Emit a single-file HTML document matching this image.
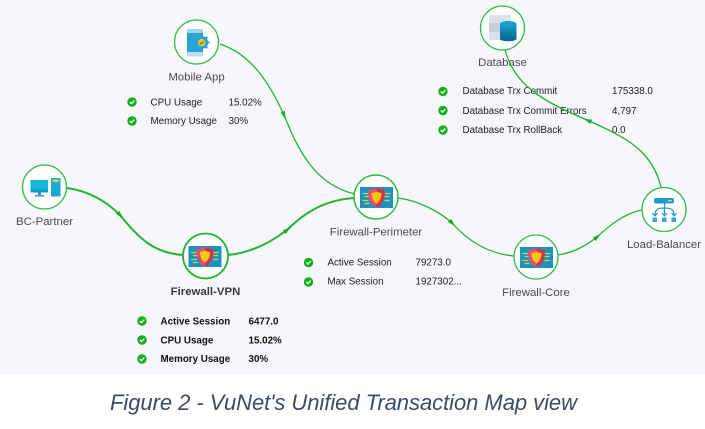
<!DOCTYPE html>
<html><head><meta charset="utf-8"><style>
html,body{margin:0;padding:0;background:#fff}
svg{display:block;filter:blur(.3px)}
text{font-family:"Liberation Sans",sans-serif}
.l{font-size:11.4px;fill:#4a4a50;text-anchor:middle}
.m{font-size:9.8px;fill:#1c1c20}
.b{font-weight:bold;fill:#111}
.c{fill:none;stroke:#22b52f}
.n{fill:#fff;stroke:#35bd4a;stroke-width:1.3}
</style></head><body>
<svg width="705" height="429" viewBox="0 0 705 429" xmlns="http://www.w3.org/2000/svg">
<defs>
<linearGradient id="cy" x1="0" y1="0" x2="0" y2="1"><stop offset="0" stop-color="#14a0c8"/><stop offset="1" stop-color="#0a6a90"/></linearGradient>
<g id="ck"><circle r="4.7" fill="#0fb01e"/><path d="M-2.2 0 L-.6 1.7 L2.3 -1.4" fill="none" stroke="#fff" stroke-width="1.3"/></g>
<path id="ah" d="M4.5 0 L-3.5 -2.3 L-3.5 2.3Z" fill="#12ad20"/>
<g id="fw">
<rect x="-16.500" y="-10.500" width="33" height="21" fill="#1a93bf"/>
<path d="M-14 -4h6M-12 -1h5M-14 3h6M-12 6h5M8 -4h6M8 -1h5M8 3h5" stroke="#e0c848" stroke-width="1.200"/>
<path d="M0 -10 C3 -8 6 -7.500 8.500 -7.500 C8.500 2 6 7 0 10 Z" fill="#d9304f"/>
<path d="M0 -10 C-3 -8 -6 -7.500 -8.500 -7.500 C-8.500 2 -6 7 0 10 Z" fill="#ee4a78"/>
<path d="M0 -6 C2 -5 3.500 -4.500 5 -4.500 C5 1 3 4 0 6 C-3 4 -5 1 -5 -4.500 C-3.500 -4.500 -2 -5 0 -6Z" fill="#fdc80e"/>
</g>
</defs>
<rect width="705" height="375" fill="#f6f6fb"/>
<rect y="375" width="705" height="54" fill="#fff"/>

<text class="l" x="196.500" y="80.500">Mobile App</text>
<text class="l" x="502.500" y="66">Database</text>
<text class="l" x="44.500" y="225">BC-Partner</text>
<text class="l b" x="205.500" y="295" style="fill:#3a3a40">Firewall-VPN</text>
<text class="l" x="376" y="235.500">Firewall-Perimeter</text>
<text class="l" x="536" y="296">Firewall-Core</text>
<text class="l" x="664" y="248">Load-Balancer</text>

<use href="#ck" x="132" y="102"/><use href="#ck" x="132" y="121"/>
<text class="m" x="150.500" y="105.500">CPU Usage</text><text class="m" x="228.500" y="105.500">15.02%</text>
<text class="m" x="150.500" y="124">Memory Usage</text><text class="m" x="228.500" y="124">30%</text>

<use href="#ck" x="443" y="91.500"/><use href="#ck" x="443" y="110.500"/><use href="#ck" x="443" y="130"/>
<text class="m" x="462.500" y="94">Database Trx Commit</text><text class="m" x="612" y="94">175338.0</text>
<text class="m" x="462.500" y="114">Database Trx Commit Errors</text><text class="m" x="612" y="114">4,797</text>
<text class="m" x="462.500" y="133">Database Trx RollBack</text><text class="m" x="612" y="133">0.0</text>

<use href="#ck" x="308.500" y="262.500"/><use href="#ck" x="308.500" y="282"/>
<text class="m" x="327.500" y="265.500">Active Session</text><text class="m" x="415.500" y="265.500">79273.0</text>
<text class="m" x="327.500" y="284.500">Max Session</text><text class="m" x="415.500" y="284.500">1927302...</text>

<use href="#ck" x="142" y="321"/><use href="#ck" x="142" y="340"/><use href="#ck" x="142" y="359"/>
<text class="m b" x="160.500" y="324.500">Active Session</text><text class="m b" x="248.500" y="324.500">6477.0</text>
<text class="m b" x="160.500" y="343.500">CPU Usage</text><text class="m b" x="248.500" y="343.500">15.02%</text>
<text class="m b" x="160.500" y="362">Memory Usage</text><text class="m b" x="248.500" y="362">30%</text>

<path class="c" stroke-width="1.300" d="M220 44 C250 54 268 80 284 115 C298 150 315 185 355 194"/>
<path class="c" stroke-width="2" d="M67 188 C88 191 106 201 120 215 C140 240 155 253 183 255"/>
<path class="c" stroke-width="2" d="M228 255 C250 253 270 243 287 230 C305 212 325 200 354 198"/>
<path class="c" stroke-width="1.300" d="M398 198 C420 201 440 212 452 223 C470 243 490 254 514 256"/>
<path class="c" stroke-width="1.300" d="M558 255 C572 253 586 246 597 237 C610 225 625 213 642 210"/>
<path class="c" stroke-width="1.300" d="M661 187 C652 150 625 137 588 120.500 C540 100 515 85 505 50"/>
<use href="#ah" transform="translate(284 115) rotate(70)"/>
<use href="#ah" transform="translate(120 215) rotate(50)"/>
<use href="#ah" transform="translate(287 230) rotate(-38)"/>
<use href="#ah" transform="translate(452 223) rotate(45)"/>
<use href="#ah" transform="translate(597 237) rotate(-40)"/>
<use href="#ah" transform="translate(588 120.500) rotate(203)"/>

<circle class="n" cx="196.500" cy="42" r="22"/>
<circle class="n" cx="502.500" cy="28" r="22"/>
<circle class="n" cx="44.500" cy="187" r="22"/>
<circle class="n" cx="205.500" cy="256" r="22.500" style="stroke-width:1.800;stroke:#22b52f"/>
<circle class="n" cx="376" cy="197" r="22" style="stroke-width:1.500"/>
<circle class="n" cx="536" cy="257" r="22"/>
<circle class="n" cx="664" cy="209.500" r="22"/>

<!-- Mobile -->
<rect x="187" y="29" width="16" height="27.500" rx="2.500" fill="#2aa3d9"/>
<rect x="187" y="29" width="16" height="4" rx="1.500" fill="#9fd6ee"/>
<rect x="187" y="52" width="16" height="4.500" rx="1.500" fill="#b8e0f2"/>
<circle cx="201.700" cy="42.500" r="6.500" fill="#2aa3d9"/>
<path d="M201.700 34.500v16M193.700 42.500h16M196 36.800l11.400 11.400M207.400 36.800L196 48.200" stroke="#2aa3d9" stroke-width="1.800"/>
<circle cx="201.700" cy="42.500" r="3.700" fill="#e6c81f"/>
<path d="M199.700 42.500l1.500 1.500 2.500-2.500" fill="none" stroke="#30708a" stroke-width=".8"/>
<!-- Database -->
<rect x="489" y="15" width="22" height="25" rx="1.500" fill="#dbe1e8"/>
<rect x="489" y="23" width="22" height="9" fill="#c6cfd7"/>
<rect x="500" y="24" width="16.500" height="15" fill="url(#cy)"/>
<ellipse cx="508.200" cy="39" rx="8.200" ry="2.300" fill="#0a6a90"/>
<ellipse cx="508.200" cy="24" rx="8.200" ry="3" fill="#14a0c8"/>
<!-- BC -->
<rect x="30.500" y="180" width="17.500" height="12" fill="#18b5e2"/>
<rect x="30.500" y="189.500" width="17.500" height="3" fill="#0d9fc9"/>
<path d="M38 192.500h3v2.500h3v1.500h-9v-1.500h3z" fill="#3a94b5"/>
<rect x="51" y="178" width="9.500" height="18.500" rx=".8" fill="#18a9d8"/>
<rect x="52.500" y="179.500" width="6.500" height="2.500" fill="#d9d24a"/>
<!-- Firewalls -->
<use href="#fw" x="205" y="256.500"/>
<use href="#fw" x="376.500" y="197.500"/>
<use href="#fw" x="536.500" y="257.500"/>
<!-- LB -->
<rect x="654" y="198" width="20" height="5.500" rx="2" fill="#1e9ac9"/>
<path d="M668 200.700h4" stroke="#e2d24a" stroke-width="1.300"/>
<path d="M664.500 203.500V215M655 215c0-6 4-7 9.500-7s9.500 1 9.500 7" fill="none" stroke="#1e9ac9" stroke-width="1.300"/>
<path d="M652.500 213l2.500 3 2.500-3M662 213l2.500 3 2.500-3M671.500 213l2.500 3 2.500-3" fill="none" stroke="#1e9ac9" stroke-width="1.200"/>
<rect x="652.500" y="217.500" width="4.500" height="4.500" fill="#35a8dc"/><rect x="662" y="217.500" width="4.500" height="4.500" fill="#35a8dc"/><rect x="671.500" y="217.500" width="4.500" height="4.500" fill="#35a8dc"/>

<text x="110" y="410" font-size="22" font-style="italic" fill="#3d4b63" textLength="467" lengthAdjust="spacing">Figure 2 - VuNet's Unified Transaction Map view</text>
</svg>
</body></html>
